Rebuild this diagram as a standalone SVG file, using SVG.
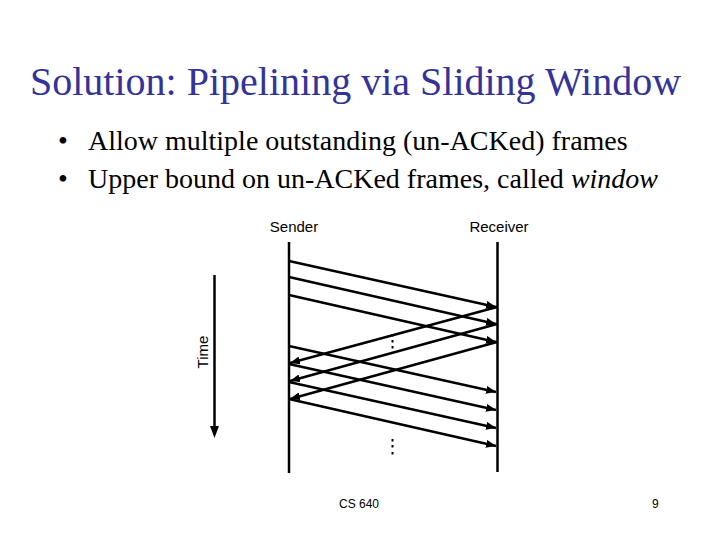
<svg xmlns="http://www.w3.org/2000/svg" width="720" height="540" viewBox="0 0 720 540">
<defs>
<marker id="ah" viewBox="0 0 10 8" refX="10" refY="4" markerWidth="10" markerHeight="8" markerUnits="userSpaceOnUse" orient="auto">
<path d="M0,0 L10,4 L0,8 Z" fill="#000"/>
</marker>
</defs>
<style>
.title{font-family:"Liberation Serif",serif;font-size:40px;fill:#333399}
.bul{font-family:"Liberation Serif",serif;font-size:28px;fill:#000}
.lbl{font-family:"Liberation Sans",sans-serif;font-size:15px;fill:#000}
.foot{font-family:"Liberation Sans",sans-serif;font-size:12px;fill:#000}
.life{stroke:#000;stroke-width:2.5;fill:none}
.msg{stroke:#000;stroke-width:2.4;fill:none;marker-end:url(#ah)}
.dot{fill:#000}
</style>
<rect width="720" height="540" fill="#fff"/>
<text class="title" x="30" y="95">Solution: Pipelining via Sliding Window</text>
<text class="bul" x="58" y="150">•</text>
<text class="bul" x="88" y="150">Allow multiple outstanding (un-ACKed) frames</text>
<text class="bul" x="58" y="188">•</text>
<text class="bul" x="88" y="188">Upper bound on un-ACKed frames, called <tspan font-style="italic">window</tspan></text>

<g id="sender">
<text class="lbl" x="294" y="232" text-anchor="middle">Sender</text>
<line class="life" x1="289" y1="242" x2="289" y2="473"/>
</g>
<g id="receiver">
<text class="lbl" x="499" y="232" text-anchor="middle">Receiver</text>
<line class="life" x1="497.5" y1="242" x2="497.5" y2="472"/>
</g>
<g id="time">
<line class="life" x1="214.5" y1="275" x2="214.5" y2="428"/>
<path d="M210,426 L219,426 L214.5,438 Z" fill="#000"/>
<text class="lbl" transform="translate(208,352) rotate(-90)" text-anchor="middle">Time</text>
</g>
<g id="connectors">
<line class="msg" x1="289" y1="261" x2="496" y2="307"/>
<line class="msg" x1="289" y1="277" x2="496" y2="324"/>
<line class="msg" x1="289" y1="295" x2="496" y2="342"/>
<line class="msg" x1="497" y1="307" x2="290" y2="363"/>
<line class="msg" x1="497" y1="324" x2="290" y2="381"/>
<line class="msg" x1="497" y1="342" x2="290" y2="399"/>
<line class="msg" x1="289" y1="346" x2="496" y2="392"/>
<line class="msg" x1="289" y1="364" x2="496" y2="410"/>
<line class="msg" x1="289" y1="382" x2="496" y2="428"/>
<line class="msg" x1="289" y1="399" x2="496" y2="446"/>
</g>
<g id="dots1">
<rect class="dot" x="391.5" y="334" width="2" height="2.5"/>
<rect class="dot" x="391.5" y="340" width="2" height="2.5"/>
<rect class="dot" x="391.5" y="346" width="2" height="2.5"/>
</g>
<g id="dots2">
<rect class="dot" x="391.5" y="439" width="2" height="2.5"/>
<rect class="dot" x="391.5" y="445" width="2" height="2.5"/>
<rect class="dot" x="391.5" y="452" width="2" height="2.5"/>
</g>
<text class="foot" x="339" y="508">CS 640</text>
<text class="foot" x="652" y="508">9</text>
</svg>
